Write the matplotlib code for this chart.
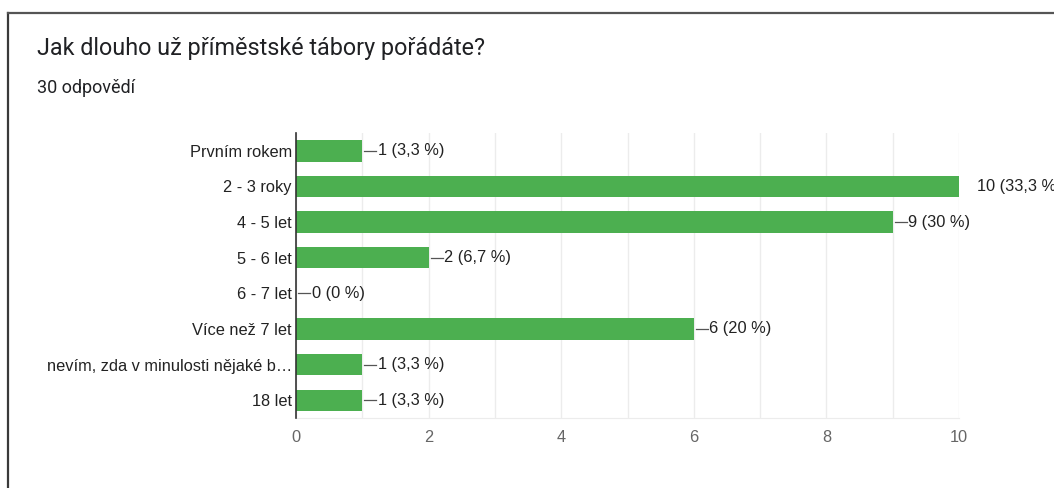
import matplotlib
matplotlib.use("Agg")
import matplotlib.pyplot as plt
from matplotlib.lines import Line2D

categories = ["Prvním rokem", "2 - 3 roky", "4 - 5 let", "5 - 6 let", "6 - 7 let",
              "Více než 7 let", "nevím, zda v minulosti nějaké b…", "18 let"]
counts = [1, 10, 9, 2, 0, 6, 1, 1]
percents = ["3,3", "33,3", "30", "6,7", "0", "20", "3,3", "3,3"]
xticks = [0, 2, 4, 6, 8, 10]

W, H = 1054, 488
fig = plt.figure(figsize=(W / 100, H / 100), dpi=100)
fig.patch.set_facecolor("white")

# card border (top and left edges visible)
fig.add_artist(Line2D([8 / W, 8 / W], [0, 1 - 12.5 / H], transform=fig.transFigure,
                      color="#3a3a3a", lw=1.6))
fig.add_artist(Line2D([8 / W, 1], [1 - 12.5 / H, 1 - 12.5 / H], transform=fig.transFigure,
                      color="#555555", lw=1.6))

fig.text(37 / W, 1 - 48 / H, "Jak dlouho už příměstské tábory pořádáte?",
         fontsize=16.8, family="Roboto", color="#202124", va="center", ha="left")
fig.text(37 / W, 1 - 88 / H, "30 odpovědí", fontsize=13, family="Roboto",
         color="#202124", va="center", ha="left")

left, right, top, bottom = 296, 959, 133, 418
ax = fig.add_axes([left / W, 1 - bottom / H, (right - left) / W, (bottom - top) / H])
ax.set_facecolor("white")

FS = 11.8
ypos = list(range(len(categories)))
ax.barh(ypos, counts, height=0.6, color="#4caf50", zorder=3)
ax.set_ylim(len(categories) - 0.5, -0.5)
ax.set_xlim(0, 10)

ax.set_xticks(xticks)
ax.set_xticks([1, 3, 5, 7, 9], minor=True)
ax.grid(axis="x", which="both", color="#ececec", lw=1, zorder=0)
ax.tick_params(axis="x", which="both", length=0, pad=9, labelsize=FS, labelcolor="#666666")
ax.set_xticklabels([str(t) for t in xticks], family="Liberation Sans")

ax.set_yticks(ypos)
ax.set_yticklabels(categories, family="Liberation Sans", fontsize=FS, color="#222222")
ax.tick_params(axis="y", length=0, pad=3)

for s in ["top", "right"]:
    ax.spines[s].set_visible(False)
ax.spines["bottom"].set_color("#ececec")
ax.spines["left"].set_color("#333333")
ax.spines["left"].set_linewidth(1.2)
ax.spines["left"].set_zorder(4)

px = 10 / (right - left)
for y, c, p in zip(ypos, counts, percents):
    label = f"{c} ({p} %)"
    if c >= 10:
        ax.text(c + 18 * px, y, label, va="center", ha="left", fontsize=FS,
                family="Liberation Sans", color="#222222", clip_on=False)
    else:
        ax.plot([c + 2 * px, c + 14 * px], [y, y], color="#555555", lw=0.9,
                zorder=4, clip_on=False)
        ax.text(c + 15.5 * px, y, label, va="center", ha="left", fontsize=FS,
                family="Liberation Sans", color="#222222", clip_on=False)

fig.savefig("out.png", dpi=100, facecolor="white")
